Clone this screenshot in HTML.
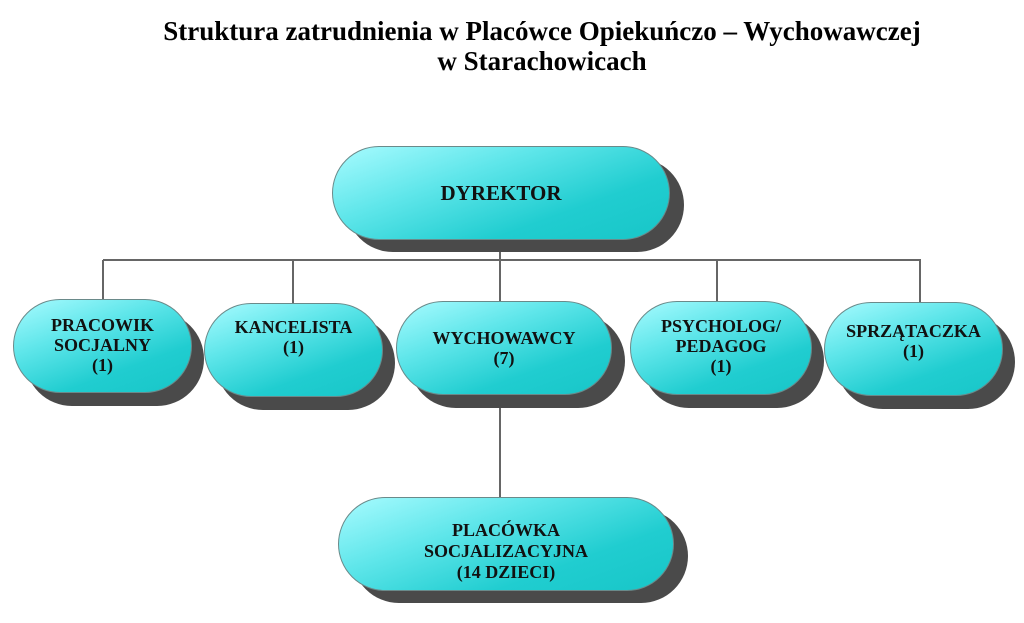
<!DOCTYPE html>
<html><head><meta charset="utf-8"><style>
body{margin:0;width:1024px;height:623px;background:#fff;position:relative;overflow:hidden;font-family:"Liberation Serif",serif;}
.t{position:absolute;left:0;width:1084px;text-align:center;font-weight:bold;font-size:27px;color:#000;}
.s{position:absolute;background:#4a4a4a;border-radius:48px;}
.b{position:absolute;border-radius:48px;border:1px solid #6a8a8a;box-sizing:border-box;
background:linear-gradient(160deg,#a8fbff 0%,#5fe6ea 35%,#20cdd0 70%,#18c6c8 100%);
text-align:center;font-weight:bold;font-size:18px;line-height:20px;color:#111;}
.l{position:absolute;background:#666;}
</style></head><body>
<div class="t" style="top:16px">Struktura zatrudnienia w Placówce Opiekuńczo – Wychowawczej</div>
<div class="t" style="top:46px">w Starachowicach</div>

<div class="l" style="left:103px;top:259px;width:818px;height:2px"></div>
<div class="l" style="left:499px;top:240px;width:2px;height:258px"></div>
<div class="l" style="left:102px;top:260px;width:2px;height:40px"></div>
<div class="l" style="left:292px;top:260px;width:2px;height:43px"></div>
<div class="l" style="left:716px;top:260px;width:2px;height:42px"></div>
<div class="l" style="left:919px;top:260px;width:2px;height:43px"></div>

<div class="s" style="left:346px;top:158px;width:338px;height:94px"></div>
<div class="b" style="left:332px;top:146px;width:338px;height:94px;padding-top:36px;font-size:21px">DYREKTOR</div>

<div class="s" style="left:25px;top:312px;width:179px;height:94px"></div>
<div class="b" style="left:13px;top:299px;width:179px;height:94px;padding-top:15px">PRACOWIK<br>SOCJALNY<br>(1)</div>

<div class="s" style="left:216px;top:316px;width:179px;height:94px"></div>
<div class="b" style="left:204px;top:303px;width:179px;height:94px;padding-top:13px">KANCELISTA<br>(1)</div>

<div class="s" style="left:409px;top:314px;width:216px;height:94px"></div>
<div class="b" style="left:396px;top:301px;width:216px;height:94px;padding-top:26px">WYCHOWAWCY<br>(7)</div>

<div class="s" style="left:642px;top:314px;width:182px;height:94px"></div>
<div class="b" style="left:630px;top:301px;width:182px;height:94px;padding-top:14px">PSYCHOLOG/<br>PEDAGOG<br>(1)</div>

<div class="s" style="left:836px;top:315px;width:179px;height:94px"></div>
<div class="b" style="left:824px;top:302px;width:179px;height:94px;padding-top:18px">SPRZĄTACZKA<br>(1)</div>

<div class="s" style="left:352px;top:509px;width:336px;height:94px"></div>
<div class="b" style="left:338px;top:497px;width:336px;height:94px;padding-top:22px;font-size:18px;line-height:21px">PLACÓWKA<br>SOCJALIZACYJNA<br>(14 DZIECI)</div>
</body></html>
